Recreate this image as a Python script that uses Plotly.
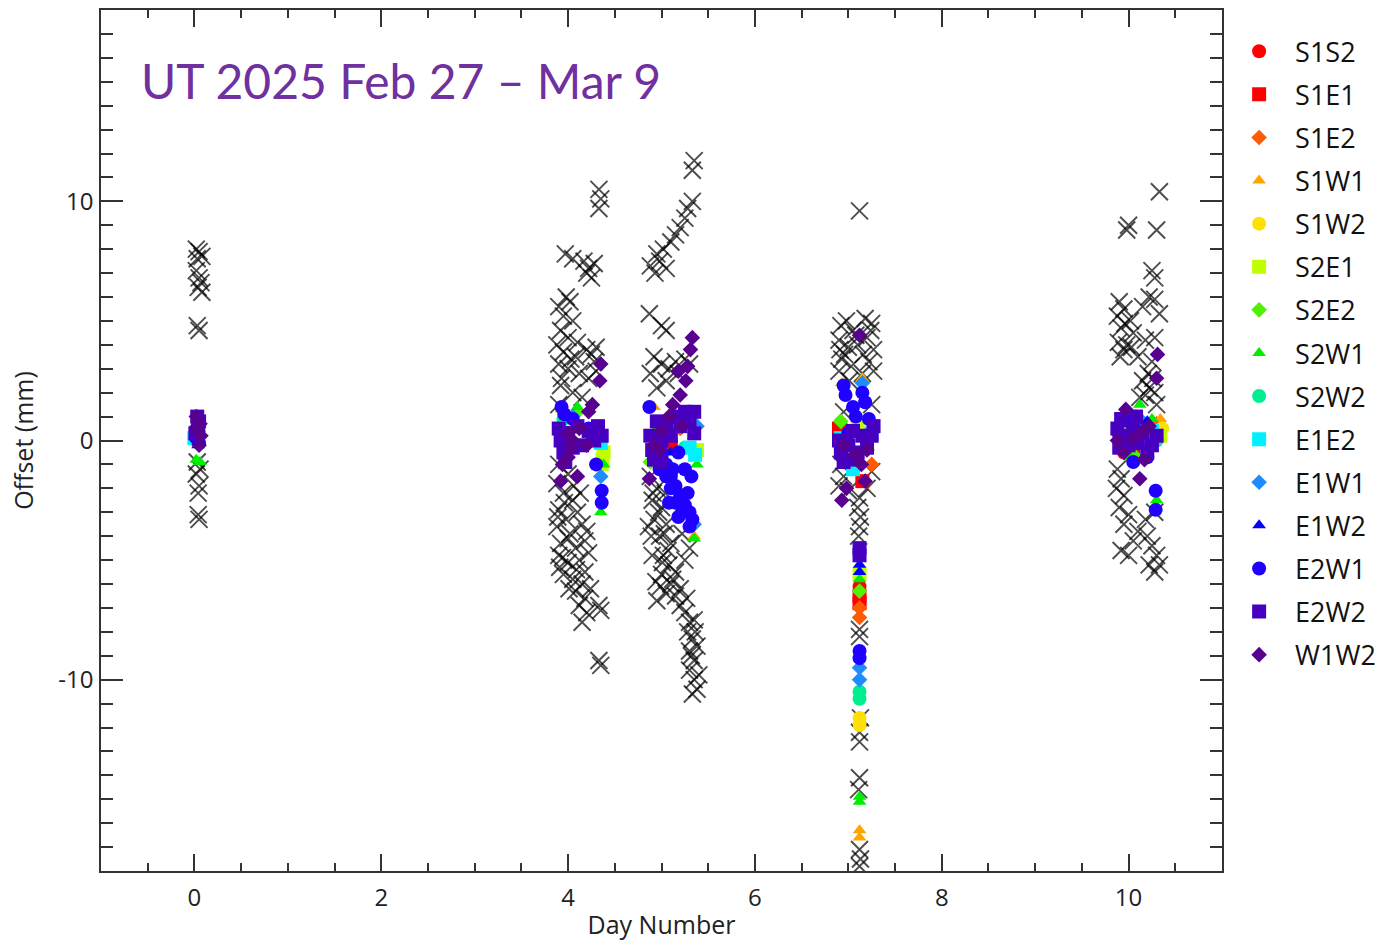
import plotly.graph_objects as go

# ---------------- data ----------------
# raw per-scan offsets (black crosses)
raw_x = [
    0.02, 0.05, 0.08, 0.03, 0.02, 0.05, 0.07, 0.04, 0.08, 0.03, 0.05, 0.03, 0.06, 0.02, 0.05, 0.04, 0.04, 0.05,
    4.33, 4.35, 4.33, 3.97, 4.05, 4.17, 4.22, 4.28, 4.20, 4.25, 3.98, 4.02, 3.90, 3.95, 4.05, 3.92, 4.00, 3.88,
    3.95, 4.08, 4.20, 4.25, 4.30, 3.90, 4.00, 4.12, 4.22, 3.92, 4.05, 4.15, 3.90, 4.28, 4.30,
    3.90, 4.00, 3.88, 3.95, 4.05, 3.90, 4.10, 3.98, 4.15, 3.88, 4.02, 4.20, 3.92, 4.08, 4.18, 3.90, 4.00, 4.12,
    4.22, 3.95, 4.05, 4.15, 4.08, 4.18, 4.12, 4.20, 4.15, 4.33, 4.35, 4.33, 4.35,
    3.93, 4.03, 4.10, 3.96, 4.06, 3.89, 4.13, 4.00, 3.94, 4.09, 4.01, 3.91, 4.18, 4.24,
    4.88, 4.93, 4.98, 5.05, 4.95, 5.02, 5.10, 5.15, 5.20, 5.25, 5.28, 5.33, 5.35, 5.33,
    4.87, 5.00, 5.05, 4.92, 5.00, 5.08, 5.15, 5.25, 5.30, 4.88, 5.05, 4.95, 5.18,
    4.88, 4.95, 4.90, 5.00, 4.92, 5.05, 4.98, 5.10, 5.02, 4.90, 5.08, 5.15, 5.00, 5.10, 5.05, 4.95, 5.15, 5.20,
    5.25, 5.30, 5.35, 5.28, 5.33, 5.38, 5.30, 5.35, 5.30, 5.35, 5.38, 5.33, 5.40, 5.25, 5.30, 5.22,
    4.91, 4.97, 5.03, 4.89, 5.07, 4.94, 5.12, 5.01, 4.86, 5.20, 5.27, 5.36, 5.32, 4.99, 5.04,
    7.12, 6.92, 6.98, 7.05, 7.18, 7.25, 6.90, 7.00, 7.10, 7.20, 7.27, 6.93, 7.03, 7.22, 6.90, 7.15, 7.27, 6.95,
    7.25, 6.92, 6.95, 6.90, 7.00, 7.25, 7.20, 7.12, 7.10, 7.13, 7.12, 7.11, 7.12, 7.12, 7.13, 7.12, 7.12, 7.12,
    7.11, 7.12, 7.13, 7.12, 6.96, 7.08, 7.16, 6.91, 7.24, 7.01,
    10.33, 9.98, 10.00, 10.30, 10.25, 10.28, 10.22, 9.90, 9.95, 9.88, 10.02, 9.92, 10.05, 10.15, 10.28, 10.33,
    10.18, 10.28, 9.95, 10.10, 10.25, 10.15, 10.22, 10.18, 10.28, 10.30,
    9.88, 9.92, 9.87, 9.95, 9.90, 10.00, 9.95, 10.10, 10.05, 9.92, 10.00, 10.20, 10.25, 10.30, 10.22, 10.28,
    10.33, 10.18, 10.28, 9.89, 9.96, 10.03, 9.91, 10.21, 10.26, 10.12, 9.98,
]
raw_y = [
    8.0, 7.9, 7.7, 7.6, 7.1, 6.8, 6.6, 6.4, 6.2, 4.8, 4.6, -0.9, -1.2, -1.4, -1.9, -2.2, -3.1, -3.3,
    10.5, 10.1, 9.7, 7.8, 7.6, 7.5, 7.2, 7.4, 7.0, 6.8, 6.0, 5.8, 5.6, 5.2, 5.0, 4.6, 4.3, 4.0,
    3.7, 3.5, 3.8, 3.6, 3.9, 3.2, 3.0, 2.8, 2.6, 2.3, 2.0, 1.8, 1.5, 3.3, 2.9,
    -1.0, -1.4, -1.8, -2.2, -2.5, -2.9, -3.0, -3.3, -3.5, -3.6, -3.9, -3.8, -4.3, -4.5, -4.2, -4.8, -5.1, -5.0,
    -4.7, -5.6, -5.8, -6.0, -6.3, -6.6, -6.9, -7.2, -7.6, -6.9, -7.1, -9.2, -9.4,
    2.6, 3.4, 4.1, -2.6, -1.9, -3.2, -2.2, -4.1, -4.9, -5.4, -6.2, -5.3, -5.5, -6.2,
    7.3, 7.0, 7.5, 7.2, 7.8, 8.0, 8.3, 8.6, 8.9, 9.3, 9.7, 11.3, 11.7, 10.0,
    5.3, 4.8, 4.6, 3.5, 3.2, 3.0, 3.3, 3.4, 3.2, 2.8, 2.5, 2.2, 2.8,
    -1.5, -2.0, -2.5, -2.8, -3.3, -3.5, -4.0, -4.3, -4.8, -4.8, -5.2, -5.5, -5.6, -6.0, -6.4, -6.7, -6.5, -6.9,
    -7.2, -7.6, -7.5, -8.0, -8.3, -8.6, -8.8, -9.2, -9.6, -10.0, -10.4, -10.6, -9.8, -5.0, -4.5, -3.9,
    -2.2, -3.0, -3.9, -4.0, -4.6, -5.9, -5.8, -5.1, -3.6, -6.2, -6.6, -8.0, -9.0, -6.1, -2.2,
    9.6, 4.8, 5.0, 4.6, 5.1, 4.9, 4.2, 3.9, 4.0, 4.3, 3.8, 3.4, 3.1, 3.3, 2.9, 2.8, 2.9, 1.2,
    1.5, -1.0, -1.5, -1.9, -2.1, -1.3, -2.0, -2.4, -2.8, -3.2, -3.6, -4.0, -7.9, -8.2, -11.6, -12.2, -12.6, -14.1,
    -14.6, -17.1, -17.5, -17.8, 3.6, 4.4, 3.6, 3.8, 4.6, 2.5,
    10.4, 8.8, 9.0, 8.8, 7.1, 6.8, 6.0, 5.8, 5.5, 5.2, 5.0, 4.7, 4.5, 5.6, 5.9, 5.3,
    4.2, 4.3, 3.8, 3.5, 3.3, 2.5, 2.2, 1.9, 2.0, 1.5,
    -1.2, -1.6, -2.0, -2.3, -2.8, -3.1, -3.5, -3.8, -4.2, -4.6, -4.8, -4.0, -4.4, -4.8, -5.2, -5.5,
    -5.2, -3.3, -3.0, 4.1, 4.9, 3.9, 3.5, 2.8, 2.6, 1.8, 4.0,
]

baselines = ["S1S2", "S1E1", "S1E2", "S1W1", "S1W2", "S2E1", "S2E2", "S2W1",
             "S2W2", "E1E2", "E1W1", "E1W2", "E2W1", "E2W2", "W1W2"]

S1S2_x = [7.12, 6.92, 9.95, 4.95, 4.00]
S1S2_y = [-6.1, 0.6, -0.5, 0.1, 0.2]
S1E1_x = [7.12, 6.90, 7.15, 7.12, 10.05, 5.10, 3.95]
S1E1_y = [-6.8, 0.5, -1.7, -6.5, -0.6, -0.2, 0.3]
S1E2_x = [7.12, 7.12, 7.25, 10.30, 5.20, 0.02]
S1E2_y = [-7.4, -7.0, -1.0, 0.7, 0.5, 0.2]
S1W1_x = [7.12, 7.12, 6.93, 7.15, 10.34, 4.92, 5.35, 3.93]
S1W1_y = [-16.3, -16.6, 2.4, 2.6, 0.9, 1.4, -4.0, 1.3]
S1W2_x = [7.12, 7.12, 7.10, 10.36, 10.32, 4.38, 0.03]
S1W2_y = [-11.6, -11.9, 0.8, 0.5, 0.3, -0.6, 0.3]
S2E1_x = [7.12, 7.10, 4.38, 4.37, 4.36, 10.00, 10.34, 5.38]
S2E1_y = [-5.6, 0.6, -0.5, -0.8, -1.0, 0.6, 0.2, -0.4]
S2E2_x = [7.12, 6.92, 10.05, 4.10, 4.88]
S2E2_y = [-6.3, 0.8, -0.6, 1.2, -0.9]
S2W1_x = [0.02, 0.06, 4.10, 4.35, 4.38, 5.35, 5.38, 4.95, 7.12, 7.12, 7.12, 10.12, 10.30, 10.02, 10.25]
S2W1_y = [-0.8, -0.9, 1.4, -3.0, -1.0, -4.1, -1.0, 0.5, -5.8, -14.9, -15.1, 1.5, -2.5, -0.7, 0.9]
S2W2_x = [0.00, 7.12, 7.12, 10.30, 3.95, 5.25]
S2W2_y = [0.1, -10.5, -10.8, 0.0, 0.9, -0.3]
E1E2_x = [4.35, 4.30, 5.36, 5.30, 7.05, 6.92, 7.25, 10.02, 10.25, 0.00]
E1E2_y = [-0.1, 0.1, -0.6, -0.3, -1.2, 0.1, 0.3, 1.0, 0.4, 0.1]
E1W1_x = [4.35, 4.05, 5.35, 5.38, 7.12, 7.12, 7.15, 10.12, 10.25]
E1W1_y = [-1.5, 1.0, -3.5, 0.6, -9.5, -10.0, 2.4, 0.9, -0.2]
E1W2_x = [7.12, 7.12, 4.20, 5.10, 10.20, 0.04]
E1W2_y = [-5.2, -5.5, 0.5, -0.5, 0.8, -0.2]
E2W1_x = [0.05, 0.02,
          3.93, 3.96, 4.05, 4.22, 4.30, 4.36, 4.36, 3.98,
          4.87, 5.05, 5.10, 5.15, 5.20, 5.25, 5.30, 5.33, 5.12, 5.18,
          5.00, 5.05, 5.10, 5.15, 5.22, 5.28, 5.32, 5.25, 5.18, 5.30, 4.98, 5.08,
          6.95, 6.97, 7.05, 7.08, 7.15, 7.18, 7.22, 7.12, 7.12, 7.00,
          10.00, 10.10, 10.05, 10.20, 10.29, 10.29, 9.90]
E2W1_y = [-0.1, 0.1,
          1.4, 1.1, 0.9, 0.5, -1.0, -2.1, -2.6, 0.3,
          1.4, -1.0, -1.5, -1.9, -2.3, -2.7, -3.0, -3.3, -1.2, -0.5,
          -0.5, -1.5, -2.0, -2.6, -3.0, -2.2, -1.5, -1.2, -3.2, -3.6, -1.2, -2.6,
          2.3, 1.9, 1.4, 1.0, 2.0, 1.6, 0.9, -8.8, -9.1, 0.3,
          0.8, 0.3, -0.9, -0.7, -2.1, -2.9, 0.2]
E2W2_x = [0.03, 0.05, 0.04, 0.01,
          3.90, 3.92, 3.95, 4.00, 4.05, 4.10, 4.15, 4.22, 4.28, 4.32, 4.36, 3.97,
          4.88, 4.90, 4.95, 5.00, 5.05, 5.10, 5.15, 5.20, 5.25, 5.30, 5.35, 5.35, 4.92, 5.00,
          6.90, 6.92, 6.95, 7.00, 7.05, 7.10, 7.15, 7.20, 7.25, 7.27, 7.12, 7.12, 7.05,
          9.88, 9.90, 9.95, 10.00, 10.05, 10.10, 10.15, 10.20, 10.25, 10.30, 9.92, 10.08]
E2W2_y = [1.0, 0.8, 0.5, 0.3,
          0.5, 0.0, -0.5, 0.3, -0.3, 0.6, -0.2, 0.4, 0.0, 0.6, 0.2, -0.9,
          0.2, -0.4, 0.8, 0.0, 0.6, 0.2, 1.0, 0.6, 1.2, 0.8, 1.2, 0.3, -0.8, -0.9,
          0.0, -0.5, -0.9, -0.2, 0.4, -0.5, 0.2, -0.3, 0.2, 0.6, -4.5, -4.8, -0.8,
          0.5, -0.3, 0.2, -0.2, 0.5, -0.1, 0.3, -0.5, -0.2, 0.2, 0.9, 1.0]
W1W2_x = [0.02, 0.06, 0.04, 0.07, 0.05, 0.03,
          4.35, 4.34, 4.26, 4.22, 4.00, 4.03, 4.00, 3.94, 3.92, 4.10, 4.05, 4.12, 4.20,
          5.33, 5.31, 5.28, 5.26, 5.20, 5.12, 5.08, 5.00, 4.98, 4.92, 4.87, 5.18, 5.22,
          7.12, 7.07, 7.14, 7.18, 6.93, 6.98, 7.20, 6.95,
          10.31, 10.30, 9.97, 9.88, 10.17, 10.12, 9.95, 10.15, 10.05, 10.22]
W1W2_y = [1.0, 0.7, 0.4, 0.2, -0.2, 0.6,
          3.2, 2.5, 1.5, 1.2, 0.3, -0.3, -0.7, -1.0, -1.7, -1.5, 0.0, 0.5, -0.2,
          4.3, 3.8, 3.1, 2.5, 1.9, 1.5, 1.0, 0.4, -0.4, -0.2, -1.6, 2.9, 0.6,
          4.4, -0.6, -1.0, -1.7, -2.5, -2.0, -0.4, -0.2,
          3.6, 2.6, 1.3, 0.0, -0.8, -1.6, -0.5, 0.4, 0.1, 0.6]

series_x = [S1S2_x, S1E1_x, S1E2_x, S1W1_x, S1W2_x, S2E1_x, S2E2_x, S2W1_x,
            S2W2_x, E1E2_x, E1W1_x, E1W2_x, E2W1_x, E2W2_x, W1W2_x]
series_y = [S1S2_y, S1E1_y, S1E2_y, S1W1_y, S1W2_y, S2E1_y, S2E2_y, S2W1_y,
            S2W2_y, E1E2_y, E1W1_y, E1W2_y, E2W1_y, E2W2_y, W1W2_y]

colors = ["#FF0000", "#FF0000", "#FF5A00", "#FFA500", "#FFE000", "#C0FF00", "#50F000", "#00EE00",
          "#00EE90", "#00F0FF", "#1E8CFF", "#0000FF", "#2000FF", "#4800C0", "#580090"]
symbols = ["circle", "square", "diamond", "triangle-up", "circle", "square", "diamond", "triangle-up",
           "circle", "square", "diamond", "triangle-up", "circle", "square", "diamond"]
sizes = {"circle": 14, "square": 14, "diamond": 12, "triangle-up": 12}

fig = go.Figure()

fig.add_trace(go.Scatter(
    x=raw_x, y=raw_y, mode="markers", showlegend=False, hoverinfo="skip",
    marker=dict(symbol="x-thin-open", size=17, color="rgba(0,0,0,0.7)",
                line=dict(width=1.9, color="rgba(0,0,0,0.7)")),
))

for name, xs, ys, c, s in zip(baselines, series_x, series_y, colors, symbols):
    fig.add_trace(go.Scatter(
        x=xs, y=ys, mode="markers", name=name, legendgroup=name,
        marker=dict(symbol=s, size=sizes[s], color=c, line=dict(width=0)),
    ))

axis_common = dict(
    showline=True, linecolor="#333333", linewidth=1.5, mirror="allticks",
    ticks="inside", tickcolor="#333333", tickwidth=1.5,
    showgrid=False, zeroline=False,
    tickfont=dict(family="Open Sans", size=24, color="#222222"),
)

x_tick_vals = [0, 2, 4, 6, 8, 10]
x_tick_text = ["0", "2", "4", "6", "8", "10"]
y_tick_vals = [-10, 0, 10]
y_tick_text = ["-10", "0", "10"]

fig.update_xaxes(
    range=[-1, 11], tickvals=x_tick_vals, ticktext=x_tick_text, ticklen=17,
    minor=dict(dtick=0.5, tick0=0, ticks="inside", ticklen=8, tickcolor="#333333", tickwidth=1.5),
    title=dict(text="Day Number", font=dict(family="Open Sans", size=25, color="#222222"), standoff=5),
    ticklabelstandoff=4,
    **axis_common,
)
fig.update_yaxes(
    range=[-18, 18], tickvals=y_tick_vals, ticktext=y_tick_text, ticklen=22,
    minor=dict(dtick=1, tick0=0, ticks="inside", ticklen=12, tickcolor="#333333", tickwidth=1.5),
    title=dict(text="Offset (mm)", font=dict(family="Open Sans", size=25, color="#222222"), standoff=18),
    ticklabelstandoff=1,
    **axis_common,
)

fig.add_annotation(
    text="UT 2025 Feb 27 \u2013 Mar 9", xref="paper", yref="paper", x=0.034, y=0.918,
    xanchor="left", yanchor="middle", showarrow=False,
    font=dict(family="Lato", size=48, color="#7030A0"),
)

fig.update_layout(
    width=1378, height=942,
    margin=dict(l=101, r=156, t=10, b=71, autoexpand=False),
    plot_bgcolor="white", paper_bgcolor="white",
    legend=dict(x=1.001, y=0.98, xanchor="left", yanchor="top",
                font=dict(family="Open Sans", size=27, color="#111111"),
                tracegroupgap=5, itemwidth=62, bgcolor="rgba(0,0,0,0)"),
)

fig.write_html("out.html")
